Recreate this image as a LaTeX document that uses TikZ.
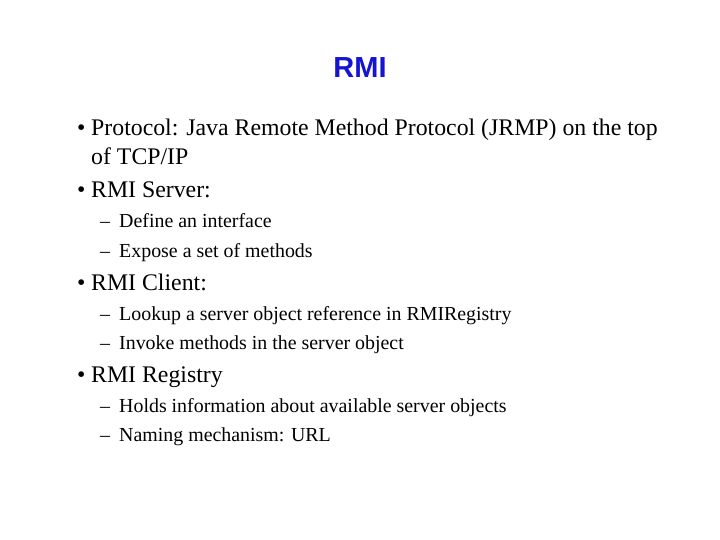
\documentclass[tikz,border=0pt]{standalone}
\usepackage{fontspec}
\setmainfont{Liberation Serif}
\newfontfamily\titlefont{Liberation Sans}
\definecolor{titleblue}{RGB}{20,20,210}
\begin{document}
\begin{tikzpicture}[x=1pt,y=-1pt,
  lvA/.style={anchor=base west,inner sep=0pt,font=\fontsize{23.8}{28}\selectfont},
  lvB/.style={anchor=base west,inner sep=0pt,font=\fontsize{19.9}{23}\selectfont}]
\useasboundingbox (0,0) rectangle (720,540);
\node[anchor=base,inner sep=0pt,text=titleblue,font=\titlefont\bfseries\fontsize{29}{34}\selectfont] (title) at (360,78) {RMI};
\node[lvA] (b1) at (77,136) {•};
\node[lvA] (t1) at (91,136) {Protocol: Java Remote Method Protocol (JRMP) on the top};
\node[lvA] (t1b) at (91,165) {of TCP/IP};
\node[lvA] (b2) at (77,197) {•};
\node[lvA] (t2) at (91,197) {RMI Server:};
\node[lvB] (d1) at (100,228) {–};
\node[lvB] (s1) at (119,228) {Define an interface};
\node[lvB] (d2) at (100,257) {–};
\node[lvB] (s2) at (119,257) {Expose a set of methods};
\node[lvA] (b3) at (77,290) {•};
\node[lvA] (t3) at (91,290) {RMI Client:};
\node[lvB] (d3) at (100,320) {–};
\node[lvB] (s3) at (119,320) {Lookup a server object reference in RMIRegistry};
\node[lvB] (d4) at (100,349) {–};
\node[lvB] (s4) at (119,349) {Invoke methods in the server object};
\node[lvA] (b4) at (77,382) {•};
\node[lvA] (t4) at (91,382) {RMI Registry};
\node[lvB] (d5) at (100,412) {–};
\node[lvB] (s5) at (119,412) {Holds information about available server objects};
\node[lvB] (d6) at (100,441) {–};
\node[lvB] (s6) at (119,441) {Naming mechanism: URL};
\end{tikzpicture}
\end{document}
